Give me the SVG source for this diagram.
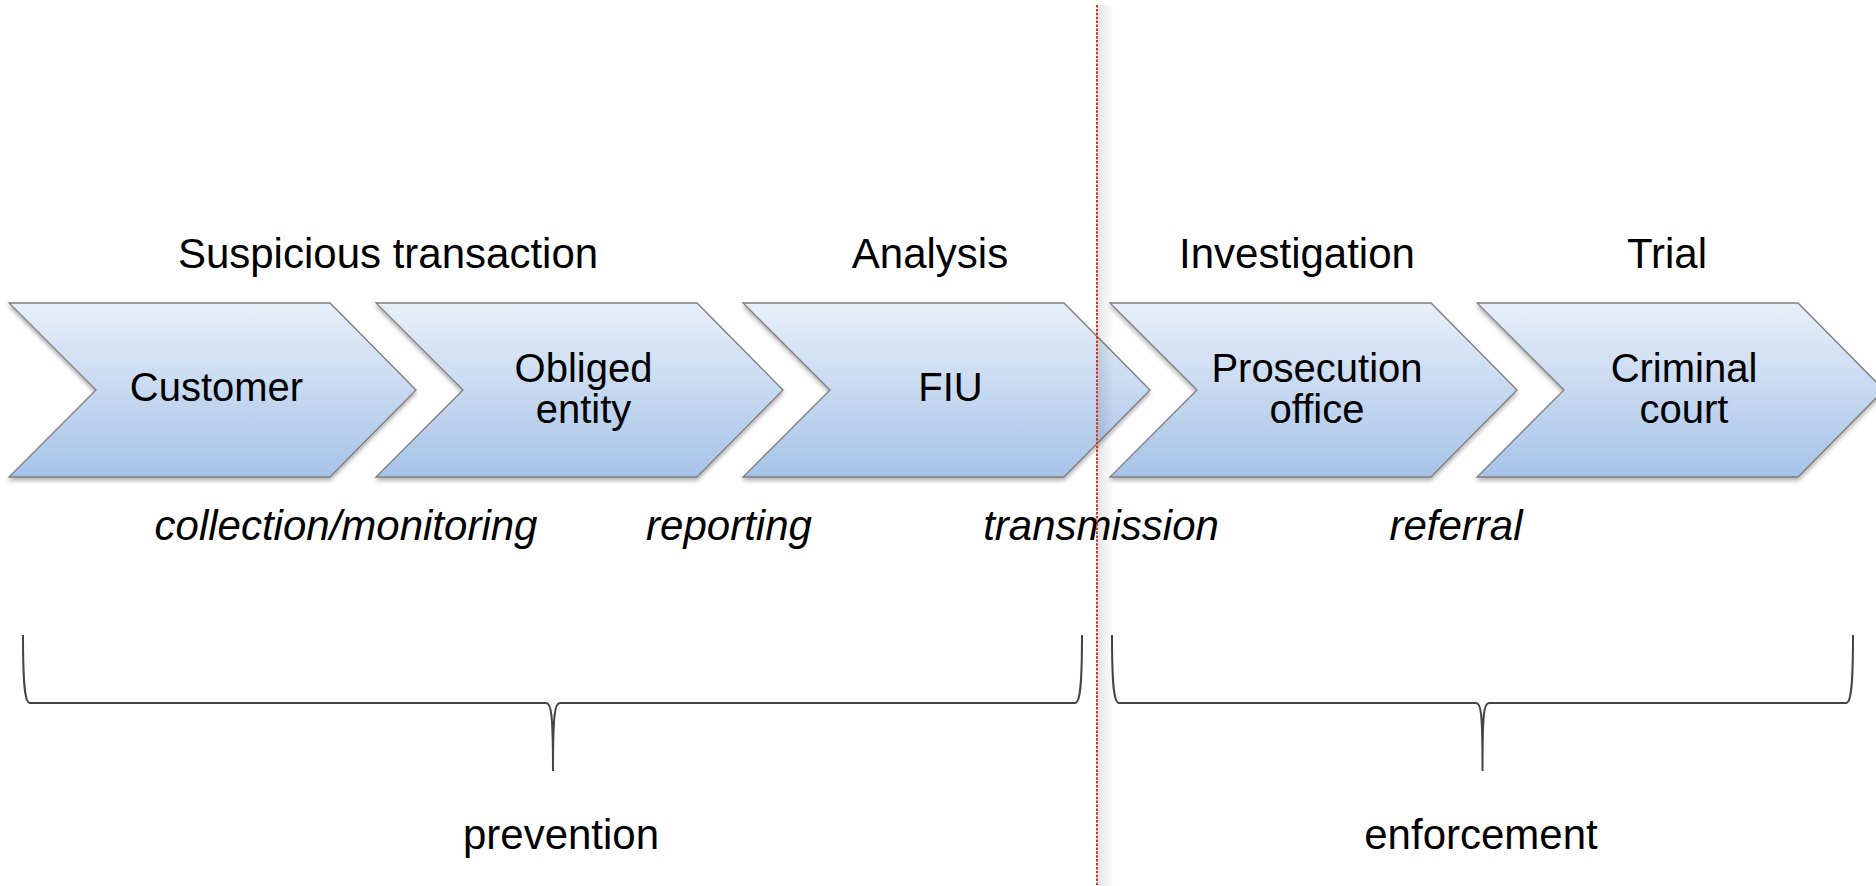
<svg xmlns="http://www.w3.org/2000/svg" width="1876" height="886" viewBox="0 0 1876 886">
<defs>
<linearGradient id="chev" x1="0" y1="0" x2="0" y2="1">
<stop offset="0" stop-color="#e8eff9"/>
<stop offset="1" stop-color="#a6c3e8"/>
</linearGradient>
<linearGradient id="shade" x1="0" y1="0" x2="1" y2="0">
<stop offset="0" stop-color="#000" stop-opacity="0.10"/>
<stop offset="1" stop-color="#000" stop-opacity="0"/>
</linearGradient>
<filter id="sh" x="-5%" y="-10%" width="110%" height="125%">
<feDropShadow dx="0" dy="3" stdDeviation="2" flood-color="#000" flood-opacity="0.3"/>
</filter>
<path id="chevshape" d="M0,303 L321,303 L407,390 L321,477 L0,477 L87,390 Z"/>
</defs>
<style>
.chev{fill:url(#chev);stroke:#7d7d7d;stroke-width:1.3;filter:url(#sh)}
.node{font-family:"Liberation Sans",Arial,sans-serif;font-size:40px;fill:#000;text-anchor:middle}
.hdr{font-family:"Liberation Sans",Arial,sans-serif;font-size:42px;fill:#000;text-anchor:middle}
.lbl{font-family:"Liberation Sans",Arial,sans-serif;font-size:42px;font-style:italic;fill:#000;text-anchor:middle}
.brace{fill:none;stroke:#444;stroke-width:2}
</style>
<rect width="1876" height="886" fill="#fff"/>

<g id="headers">
<text class="hdr" x="388" y="268">Suspicious transaction</text>
<text class="hdr" x="930" y="268">Analysis</text>
<text class="hdr" x="1297" y="268">Investigation</text>
<text class="hdr" x="1667" y="268">Trial</text>
</g>

<g id="node-customer">
<use href="#chevshape" class="chev" transform="translate(9,0)"/>
<text class="node" x="216.5" y="401">Customer</text>
</g>
<g id="node-obliged">
<use href="#chevshape" class="chev" transform="translate(376,0)"/>
<text class="node" x="583.5" y="382">Obliged</text>
<text class="node" x="583.5" y="423">entity</text>
</g>
<g id="node-fiu">
<use href="#chevshape" class="chev" transform="translate(743,0)"/>
<text class="node" x="950.5" y="401">FIU</text>
</g>
<g id="node-prosecution">
<use href="#chevshape" class="chev" transform="translate(1110,0)"/>
<text class="node" x="1317" y="382">Prosecution</text>
<text class="node" x="1317" y="423">office</text>
</g>
<g id="node-court">
<use href="#chevshape" class="chev" transform="translate(1477,0)"/>
<text class="node" x="1684" y="382">Criminal</text>
<text class="node" x="1684" y="423">court</text>
</g>

<g id="labels">
<text class="lbl" x="346" y="540">collection/monitoring</text>
<text class="lbl" x="729" y="540">reporting</text>
<text class="lbl" x="1101" y="540">transmission</text>
<text class="lbl" x="1456" y="540">referral</text>
</g>

<g id="connectors">
<path class="brace" d="M23,635 C23,686 25,703 30,703 L546,703 C551,703 553,712 553,771 C553,712 555,703 560,703 L1075,703 C1080,703 1082,686 1082,635"/>
<path class="brace" d="M1112,635 C1112,686 1114,703 1119,703 L1476,703 C1481,703 1482.5,712 1482.5,771 C1482.5,712 1484,703 1489,703 L1846,703 C1851,703 1853,686 1853,635"/>
</g>

<g id="bottom">
<text class="hdr" x="561" y="849">prevention</text>
<text class="hdr" x="1481" y="849">enforcement</text>
</g>

<g id="divider">
<rect x="1098" y="5" width="16" height="881" fill="url(#shade)"/>
<line x1="1097" y1="5" x2="1097" y2="886" stroke="#c8372d" stroke-width="2" stroke-dasharray="2.5 1.4"/>
</g>
</svg>
